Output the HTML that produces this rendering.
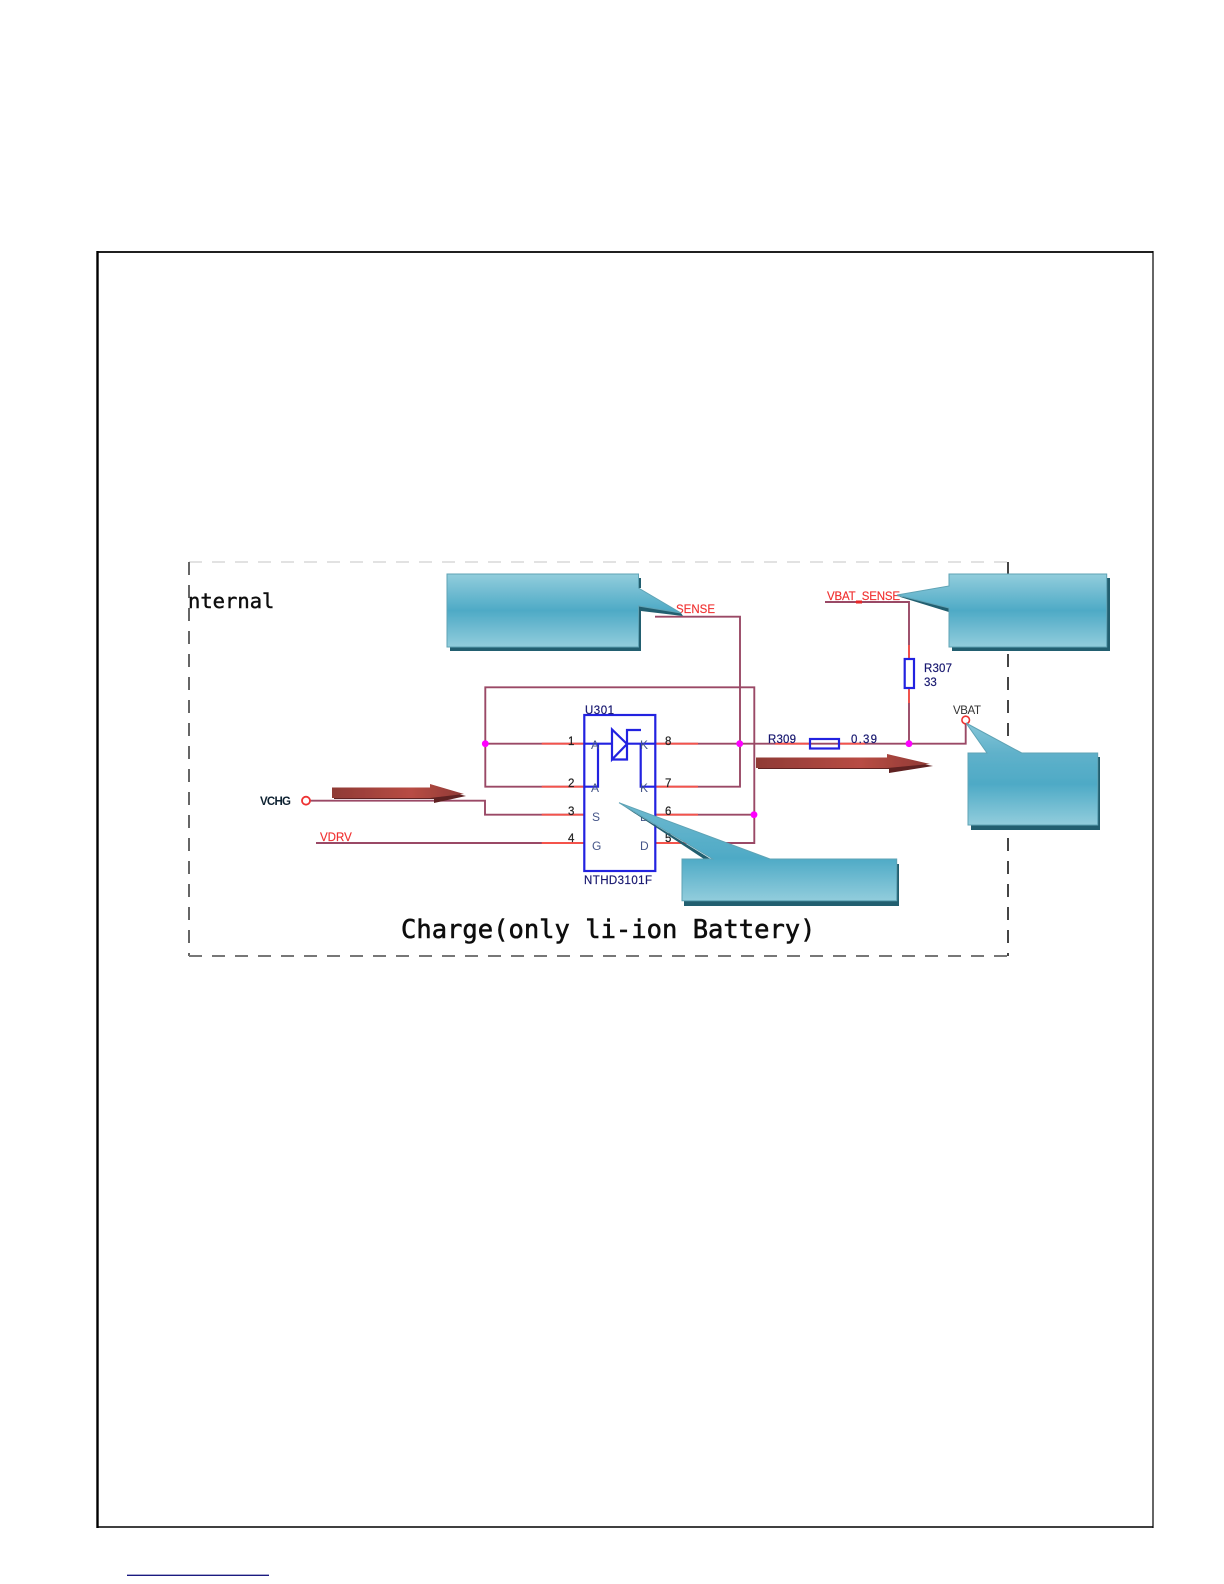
<!DOCTYPE html>
<html><head><meta charset="utf-8">
<style>html,body{margin:0;padding:0;background:#fff;width:1224px;height:1584px;overflow:hidden}svg{display:block}</style>
</head><body>
<svg width="1224" height="1584" viewBox="0 0 1224 1584" xmlns="http://www.w3.org/2000/svg">
<defs>
<linearGradient id="g" x1="0" y1="0" x2="0" y2="1"><stop offset="0" stop-color="#92cddc"/><stop offset=".5" stop-color="#4eaac6"/><stop offset="1" stop-color="#92cddc"/></linearGradient>
<linearGradient id="g4" gradientUnits="userSpaceOnUse" x1="0" y1="802" x2="0" y2="901"><stop offset="0" stop-color="#6fb9cf"/><stop offset=".57" stop-color="#4eaac6"/><stop offset="1" stop-color="#92cddc"/></linearGradient>
<linearGradient id="g3" gradientUnits="userSpaceOnUse" x1="0" y1="723" x2="0" y2="825"><stop offset="0" stop-color="#86c6d8"/><stop offset=".3" stop-color="#5fb1ca"/><stop offset=".6" stop-color="#4eaac6"/><stop offset="1" stop-color="#92cddc"/></linearGradient>
<linearGradient id="ar" x1="0" y1="0" x2="1" y2="0"><stop offset="0" stop-color="#8f3a35"/><stop offset=".6" stop-color="#b84c44"/><stop offset="1" stop-color="#8f3a35"/></linearGradient>
<filter id="b" x="-5%" y="-5%" width="110%" height="110%"><feGaussianBlur stdDeviation="0.35"/></filter>
</defs>

<g stroke="#000">
<line x1="97.5" y1="251" x2="97.5" y2="1528" stroke-width="2.4"/>
<line x1="97" y1="252" x2="1153.5" y2="252" stroke-width="1.8"/>
<line x1="1153" y1="251" x2="1153" y2="1528" stroke-width="1.2"/>
<line x1="97" y1="1527" x2="1153.5" y2="1527" stroke-width="1.5"/>
</g>
<line x1="127" y1="1575.3" x2="269" y2="1575.3" stroke="#1a1a80" stroke-width="1.4"/>

<g filter="url(#b)">
<line x1="189" y1="562" x2="1008" y2="562" stroke="#d8d8d8" stroke-width="1.5" stroke-dasharray="13,10"/>
<line x1="189" y1="562" x2="189" y2="956" stroke="#666" stroke-width="2" stroke-dasharray="13,10"/>
<line x1="189" y1="956" x2="1008" y2="956" stroke="#777" stroke-width="2" stroke-dasharray="13,10"/>
<line x1="1008" y1="562" x2="1008" y2="956" stroke="#444" stroke-width="2" stroke-dasharray="13,10"/>

<text x="188" y="608" font-family="'DejaVu Sans Mono',monospace" font-size="20.5" fill="#111" stroke="#111" stroke-width=".45">nternal</text>
<text x="401" y="938" font-family="'DejaVu Sans Mono',monospace" font-size="25.5" fill="#111" stroke="#111" stroke-width=".55">Charge(only li-ion Battery)</text>

<g fill="none" stroke="#9a4a66" stroke-width="1.9">
<polyline points="655,616.7 740,616.7 740,786.7 655,786.7"/>
<polyline points="584,786.7 485.3,786.7 485.3,687.3 754.3,687.3 754.3,843 655,843"/>
<line x1="485.3" y1="743.7" x2="584" y2="743.7"/>
<polyline points="655,743.7 965.7,743.7 965.7,724"/>
<line x1="655" y1="814.7" x2="754.3" y2="814.7"/>
<polyline points="310,800.7 485,800.7 485,814.7 584,814.7"/>
<line x1="316" y1="843" x2="584" y2="843"/>
<polyline points="825,602 909,602 909,743.7"/>
</g>
<g stroke="#f4524c" stroke-width="1.9" fill="none">
<path d="M541.7 743.7H584M541.7 786.7H584M541.7 814.7H584M541.7 843H584M655 743.7H698M655 786.7H698M655 814.7H698M655 843H698M775 743.7H810M839 743.7H865M909 645V659M909 688V703"/>
</g>
<rect x="856" y="600.5" width="6" height="3" fill="#e02020"/>

<g fill="none" stroke="#2020e0" stroke-width="2.2">
<rect x="584.3" y="715" width="71" height="156"/>
<path d="M584 743.7H612M627 743.7H655M598 743.7V786.7H584M640.7 743.7V786.7H655"/>
<path d="M612 729.5V759.5L627 744Z"/>
<path d="M641 730H627V759.5H612"/>
<rect x="810" y="739" width="29" height="9.5"/>
<rect x="904.7" y="659" width="9.3" height="29" fill="#fff"/>
</g>

<g fill="#f0f">
<circle cx="485.3" cy="743.7" r="3.4"/><circle cx="739.7" cy="743.7" r="3.4"/><circle cx="909" cy="743.7" r="3.4"/><circle cx="754" cy="814.7" r="3.4"/>
</g>
<circle cx="306" cy="800.7" r="4" fill="#fff" stroke="#ee3333" stroke-width="1.8"/>
<circle cx="965.7" cy="720" r="3.8" fill="#fff" stroke="#ee3333" stroke-width="1.6"/>

<g font-family="'Liberation Sans',sans-serif" font-size="11.5">
<g fill="#f03030" stroke="#f03030" stroke-width=".15">
<text x="676" y="613">SENSE</text>
<text x="827" y="600" textLength="73">VBAT_SENSE</text>
<text x="320" y="841">VDRV</text>
</g>
<g fill="#1a1a70" stroke="#1a1a70" stroke-width=".2">
<text x="585" y="714" textLength="29">U301</text>
<text x="584" y="884" textLength="68">NTHD3101F</text>
<text x="768" y="743" textLength="28">R309</text>
<text x="851" y="743" textLength="26">0.39</text>
<text x="924" y="672" textLength="28">R307</text>
<text x="924" y="686">33</text>
</g>
<text x="953" y="714" fill="#333" textLength="28">VBAT</text>
<text x="260" y="805" fill="#102030" font-weight="bold" textLength="31">VCHG</text>
<g fill="#222" stroke="#222" stroke-width=".2">
<text x="568" y="745">1</text><text x="568" y="787">2</text><text x="568" y="815">3</text><text x="568" y="842">4</text>
<text x="665" y="745">8</text><text x="665" y="787">7</text><text x="665" y="815">6</text><text x="665" y="842">5</text>
</g>
<g fill="#445588" font-size="12">
<text x="591" y="749">A</text><text x="591" y="792">A</text><text x="592" y="821">S</text><text x="592" y="850">G</text>
<text x="640" y="749">K</text><text x="640" y="792">K</text><text x="640" y="821">D</text><text x="640" y="850">D</text>
</g>
</g>

<!-- red arrows -->
<path d="M334 791H430V787L466 796L434 803V799H334Z" fill="#5e2020"/>
<path d="M332 787.5H430V784L464 794L430 798H332Z" fill="url(#ar)"/>
<path d="M758 761H889V757L933 766L889 773V769H758Z" fill="#5e2020"/>
<path d="M756 757.5H887V754L930 764L887 768H756Z" fill="url(#ar)"/>

<!-- callouts -->
<path d="M450 578H641V588L638 588V606L681 613L683 616L641 611V651H450Z" fill="#235f6f"/>
<path d="M447 574H638.5V588L681 613L638.5 606V647H447Z" fill="url(#g)" stroke="#5ea3b5" stroke-width="1"/>

<path d="M952 578H1110V651H952Z" fill="#235f6f"/>
<path d="M897 596L952 613V605Z" fill="#235f6f"/>
<path d="M949 574H1106.7V647H949V608L897 595L949 586Z" fill="url(#g)" stroke="#5ea3b5" stroke-width="1"/>

<path d="M971 757H1100V830H971Z" fill="#235f6f"/>
<path d="M968 753H987L966 723L1021.7 753H1097.7V825H968Z" fill="url(#g3)" stroke="#5ea3b5" stroke-width="1"/>

<path d="M684 864H899V906H684Z" fill="#235f6f"/>
<path d="M619 803L707 861L714 861Z" fill="#235f6f"/>
<path d="M682 859H712.7L619 802.7L770 859H896.7V900.7H682Z" fill="url(#g4)" stroke="#5ea3b5" stroke-width="1"/>
</g>
</svg>
</body></html>
